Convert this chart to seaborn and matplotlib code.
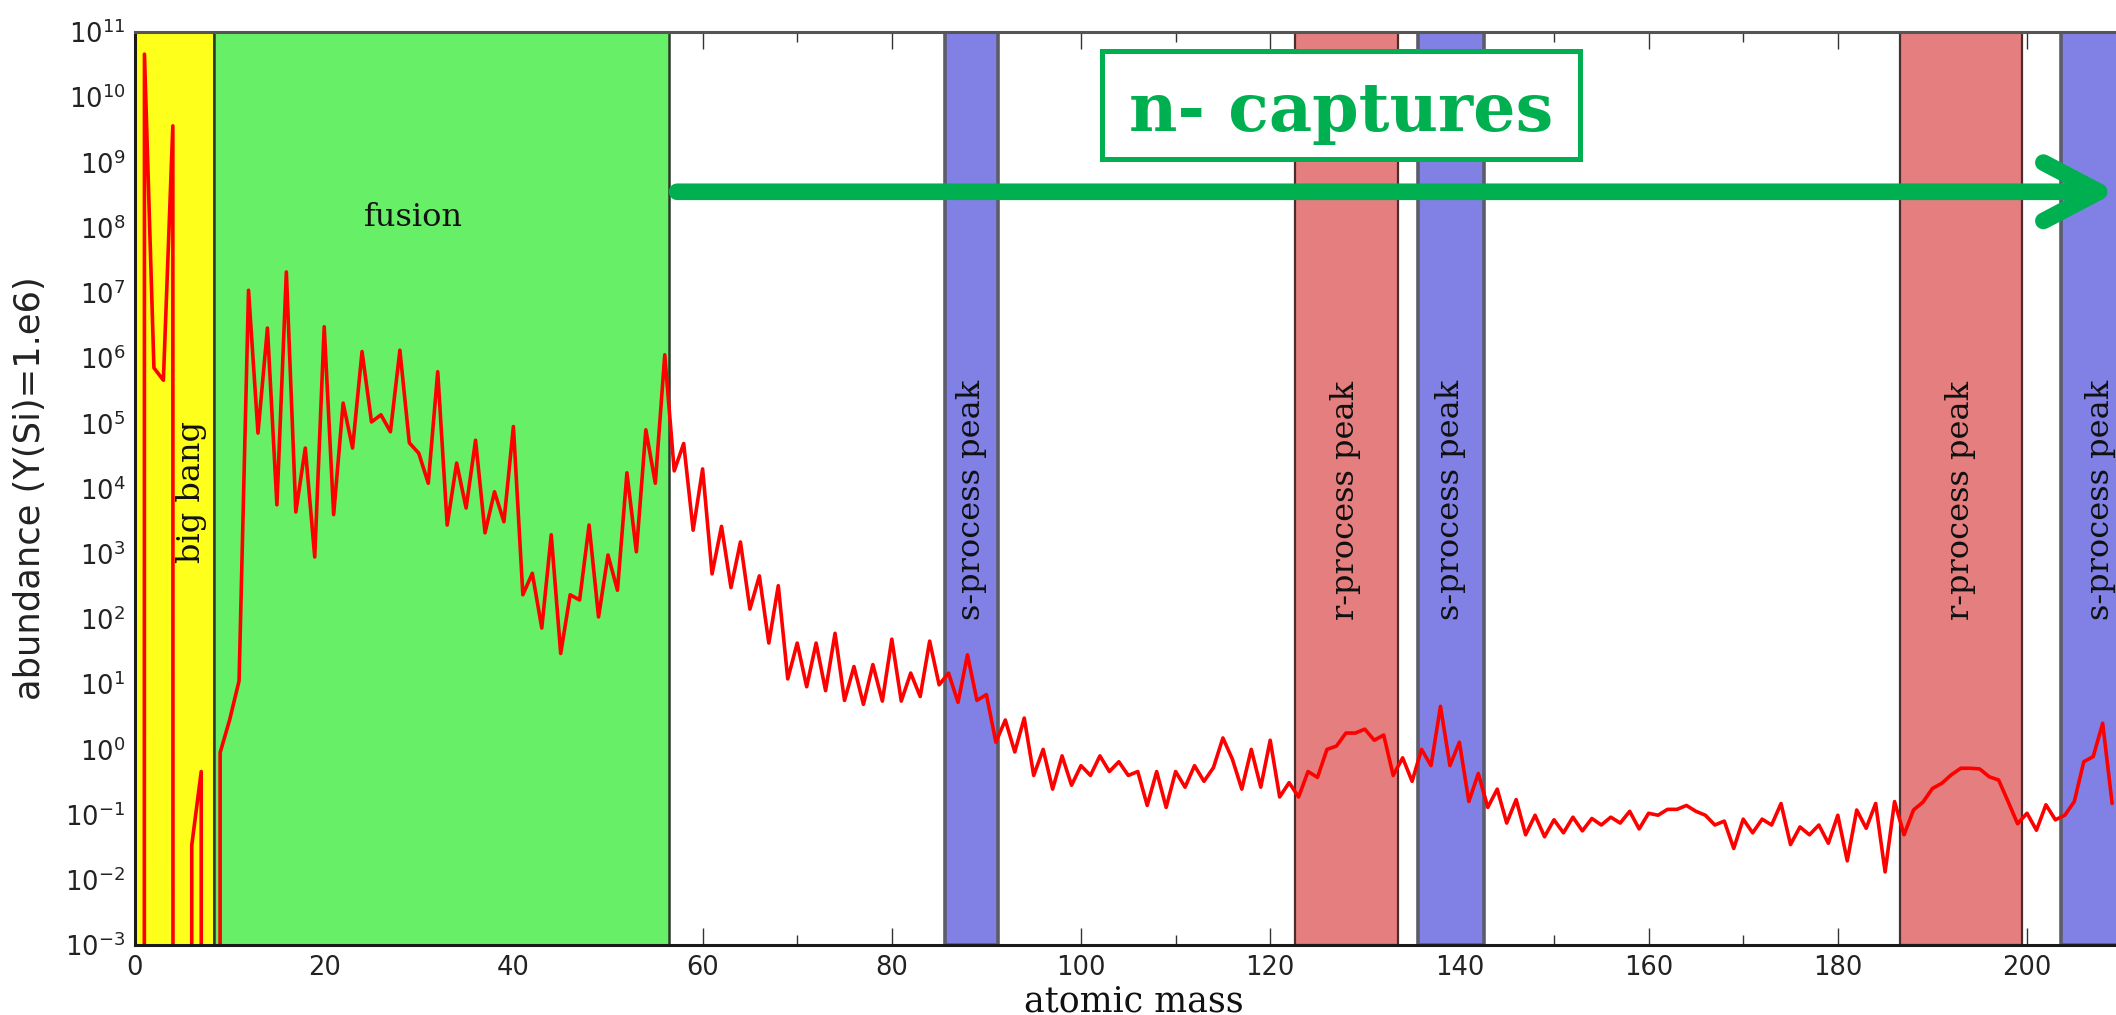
import matplotlib
matplotlib.use("Agg")
import matplotlib.pyplot as plt
import seaborn as sns
import pandas as pd
from matplotlib.ticker import MultipleLocator, FixedLocator, NullLocator, LogFormatterMathtext
from matplotlib.patches import Rectangle

# ---------------- data ----------------
mass_number = list(range(0, 210))
# log10 of abundance (Y(Si)=1e6); None = zero abundance (drawn clipped to the bottom)
log_abundance = [
    None, 10.66, 5.85, 5.66, 9.56, None, -1.47, -0.34, None, -0.05,   # 0-9
    0.45, 1.05, 7.04, 4.85, 6.46, 3.75, 7.32, 3.64, 4.62, 2.95,        # 10-19
    6.48, 3.60, 5.31, 4.62, 6.10, 5.02, 5.13, 4.87, 6.12, 4.70,        # 20-29
    4.54, 4.08, 5.79, 3.44, 4.39, 3.70, 4.74, 3.32, 3.95, 3.49,        # 30-39
    4.95, 2.37, 2.70, 1.86, 3.29, 1.47, 2.37, 2.29, 3.44, 2.03,        # 40-49
    2.98, 2.44, 4.24, 3.03, 4.90, 4.08, 6.05, 4.27, 4.69, 3.36,        # 50-59
    4.30, 2.69, 3.42, 2.48, 3.18, 2.15, 2.66, 1.63, 2.51, 1.08,        # 60-69
    1.63, 0.96, 1.63, 0.90, 1.78, 0.75, 1.27, 0.69, 1.30, 0.74,        # 70-79
    1.69, 0.74, 1.17, 0.81, 1.66, 0.99, 1.17, 0.72, 1.45, 0.75,        # 80-89
    0.84, 0.11, 0.45, -0.04, 0.48, -0.40, 0.00, -0.61, -0.10, -0.55,   # 90-99
    -0.25, -0.40, -0.10, -0.34, -0.19, -0.40, -0.34, -0.86, -0.34, -0.89,  # 100-109
    -0.34, -0.58, -0.25, -0.49, -0.28, 0.175, -0.15, -0.61, 0.00, -0.58,   # 110-119
    0.14, -0.73, -0.51, -0.73, -0.34, -0.43, 0.00, 0.05, 0.25, 0.25,   # 120-129
    0.31, 0.14, 0.22, -0.40, -0.13, -0.49, 0.00, -0.25, 0.66, -0.25,   # 130-139
    0.11, -0.80, -0.37, -0.89, -0.61, -1.13, -0.77, -1.31, -1.01, -1.34,  # 140-149
    -1.08, -1.28, -1.04, -1.25, -1.06, -1.16, -1.04, -1.13, -0.95, -1.22,  # 150-159
    -0.98, -1.01, -0.92, -0.92, -0.86, -0.95, -1.01, -1.16, -1.10, -1.52,  # 160-169
    -1.07, -1.28, -1.07, -1.16, -0.83, -1.46, -1.19, -1.31, -1.16, -1.44,  # 170-179
    -1.01, -1.71, -0.93, -1.21, -0.83, -1.88, -0.80, -1.31, -0.93, -0.81,  # 180-189
    -0.60, -0.52, -0.39, -0.29, -0.29, -0.30, -0.42, -0.47, -0.80, -1.14,  # 190-199
    -0.98, -1.24, -0.85, -1.08, -1.01, -0.80, -0.19, -0.11, 0.40, -0.83,   # 200-209
]
abundance = [0.0 if v is None else 10.0 ** v for v in log_abundance]

region_labels = ["big bang", "fusion", "s-process peak", "r-process peak",
                 "s-process peak", "r-process peak", "s-process peak"]
region_start = [0.0, 8.4, 85.6, 122.6, 135.6, 186.6, 203.6]
region_end = [8.4, 56.5, 91.2, 133.5, 142.6, 199.5, 216.0]
region_kind = ["bigbang", "fusion", "s", "r", "s", "r", "s"]

x_ticks = [0, 20, 40, 60, 80, 100, 120, 140, 160, 180, 200]
y_exponents = list(range(-3, 12))

# ---------------- style ----------------
sns.set_style("ticks")
plt.rcParams["font.family"] = ["DejaVu Sans"]
plt.rcParams["mathtext.fontset"] = "dejavusans"

fill_colors = {"bigbang": "#FFFF1C", "fusion": "#67F067", "s": "#8181E5", "r": "#E57E7E"}
edge_colors = {"bigbang": "#3a3a14", "fusion": "#2a3a2a", "s": "#5c5c6a", "r": "#4a2e2e"}
edge_widths = {"bigbang": 1.8, "fusion": 1.8, "s": 2.6, "r": 1.6}
green = "#00B050"

W, H = 2116, 1015
fig = plt.figure(figsize=(W / 100, H / 100), dpi=100)
ax = fig.add_axes([135 / W, (H - 945) / H, (W - 135) / W, (945 - 32) / H])

# bands
for s, e, k in zip(region_start, region_end, region_kind):
    ax.axvspan(s, e, facecolor=fill_colors[k], edgecolor=edge_colors[k],
               linewidth=edge_widths[k], zorder=1)

df = pd.DataFrame({"mass": mass_number, "abundance": abundance})
sns.lineplot(data=df, x="mass", y="abundance", ax=ax, color="#FF0000",
             linewidth=2.6, estimator=None, sort=False, zorder=3)
ax.set_yscale("log", nonpositive="clip")
ax.set_xlim(0, (W - 135) / 9.46)
ax.set_ylim(1e-3, 1e11)

# ticks
ax.xaxis.set_major_locator(FixedLocator(x_ticks))
ax.xaxis.set_minor_locator(MultipleLocator(10))
ax.yaxis.set_major_locator(FixedLocator([10.0 ** k for k in y_exponents]))
ax.yaxis.set_major_formatter(LogFormatterMathtext())
ax.yaxis.set_minor_locator(NullLocator())
ax.tick_params(which="both", direction="in", top=True, right=False,
               colors="#333333", labelcolor="#222222", width=1.0)
ax.tick_params(which="major", length=12, labelsize=18.5, pad=7)
ax.tick_params(which="minor", length=7)

for side in ["left", "bottom", "top"]:
    ax.spines[side].set_linewidth(2.2)
    ax.spines[side].set_color("#1a1a1a")
ax.spines["top"].set_color("#555555")
ax.spines["right"].set_visible(False)
for sp in ax.spines.values():
    sp.set_zorder(6)

# axis labels
ax.set_ylabel("abundance (Y(Si)=1.e6)", fontsize=25.4, color="#222222")
ax.yaxis.set_label_coords(-0.0445, 0.5)
ax.set_xlabel("atomic mass", fontsize=25, family="DejaVu Serif", color="#111111")
ax.xaxis.set_label_coords(0.504, -0.043)

# region labels
trans = ax.get_xaxis_transform()
label_x = [6.0, 29.4, 88.4, 128.0, 139.1, 193.0, 207.8]
for lab, lx, k in zip(region_labels, label_x, region_kind):
    if k == "fusion":
        ax.text(lx, 0.787, lab, transform=trans, ha="center", va="baseline",
                fontsize=23, family="DejaVu Serif", color="#111111", zorder=4)
    elif k == "bigbang":
        ax.text(lx, 0.418, lab, transform=trans, ha="center", va="bottom",
                rotation=90, fontsize=23, family="DejaVu Serif", color="#111111", zorder=4)
    else:
        ax.text(lx, 0.356, lab, transform=trans, ha="center", va="bottom",
                rotation=90, fontsize=23, family="DejaVu Serif", color="#111111", zorder=4)

# n-captures arrow and box
ax.annotate("", xy=(209.5, 0.825), xytext=(57.3, 0.825), xycoords=trans, textcoords=trans,
            arrowprops=dict(arrowstyle="->,head_length=4.0,head_width=2.1", lw=12,
                            color=green, shrinkA=0, shrinkB=0,
                            capstyle="round", joinstyle="round"),
            zorder=5, annotation_clip=False)
ax.add_patch(Rectangle((102.2, 0.861), 50.5, 0.118, transform=trans, facecolor="white",
                       edgecolor=green, linewidth=3.6, zorder=5, clip_on=False))
ax.text(127.5, 0.8916, "n- captures", transform=trans, ha="center", va="baseline",
        fontsize=48, fontweight="bold", family="DejaVu Serif", color=green, zorder=6)

fig.savefig("out.png", dpi=100)
